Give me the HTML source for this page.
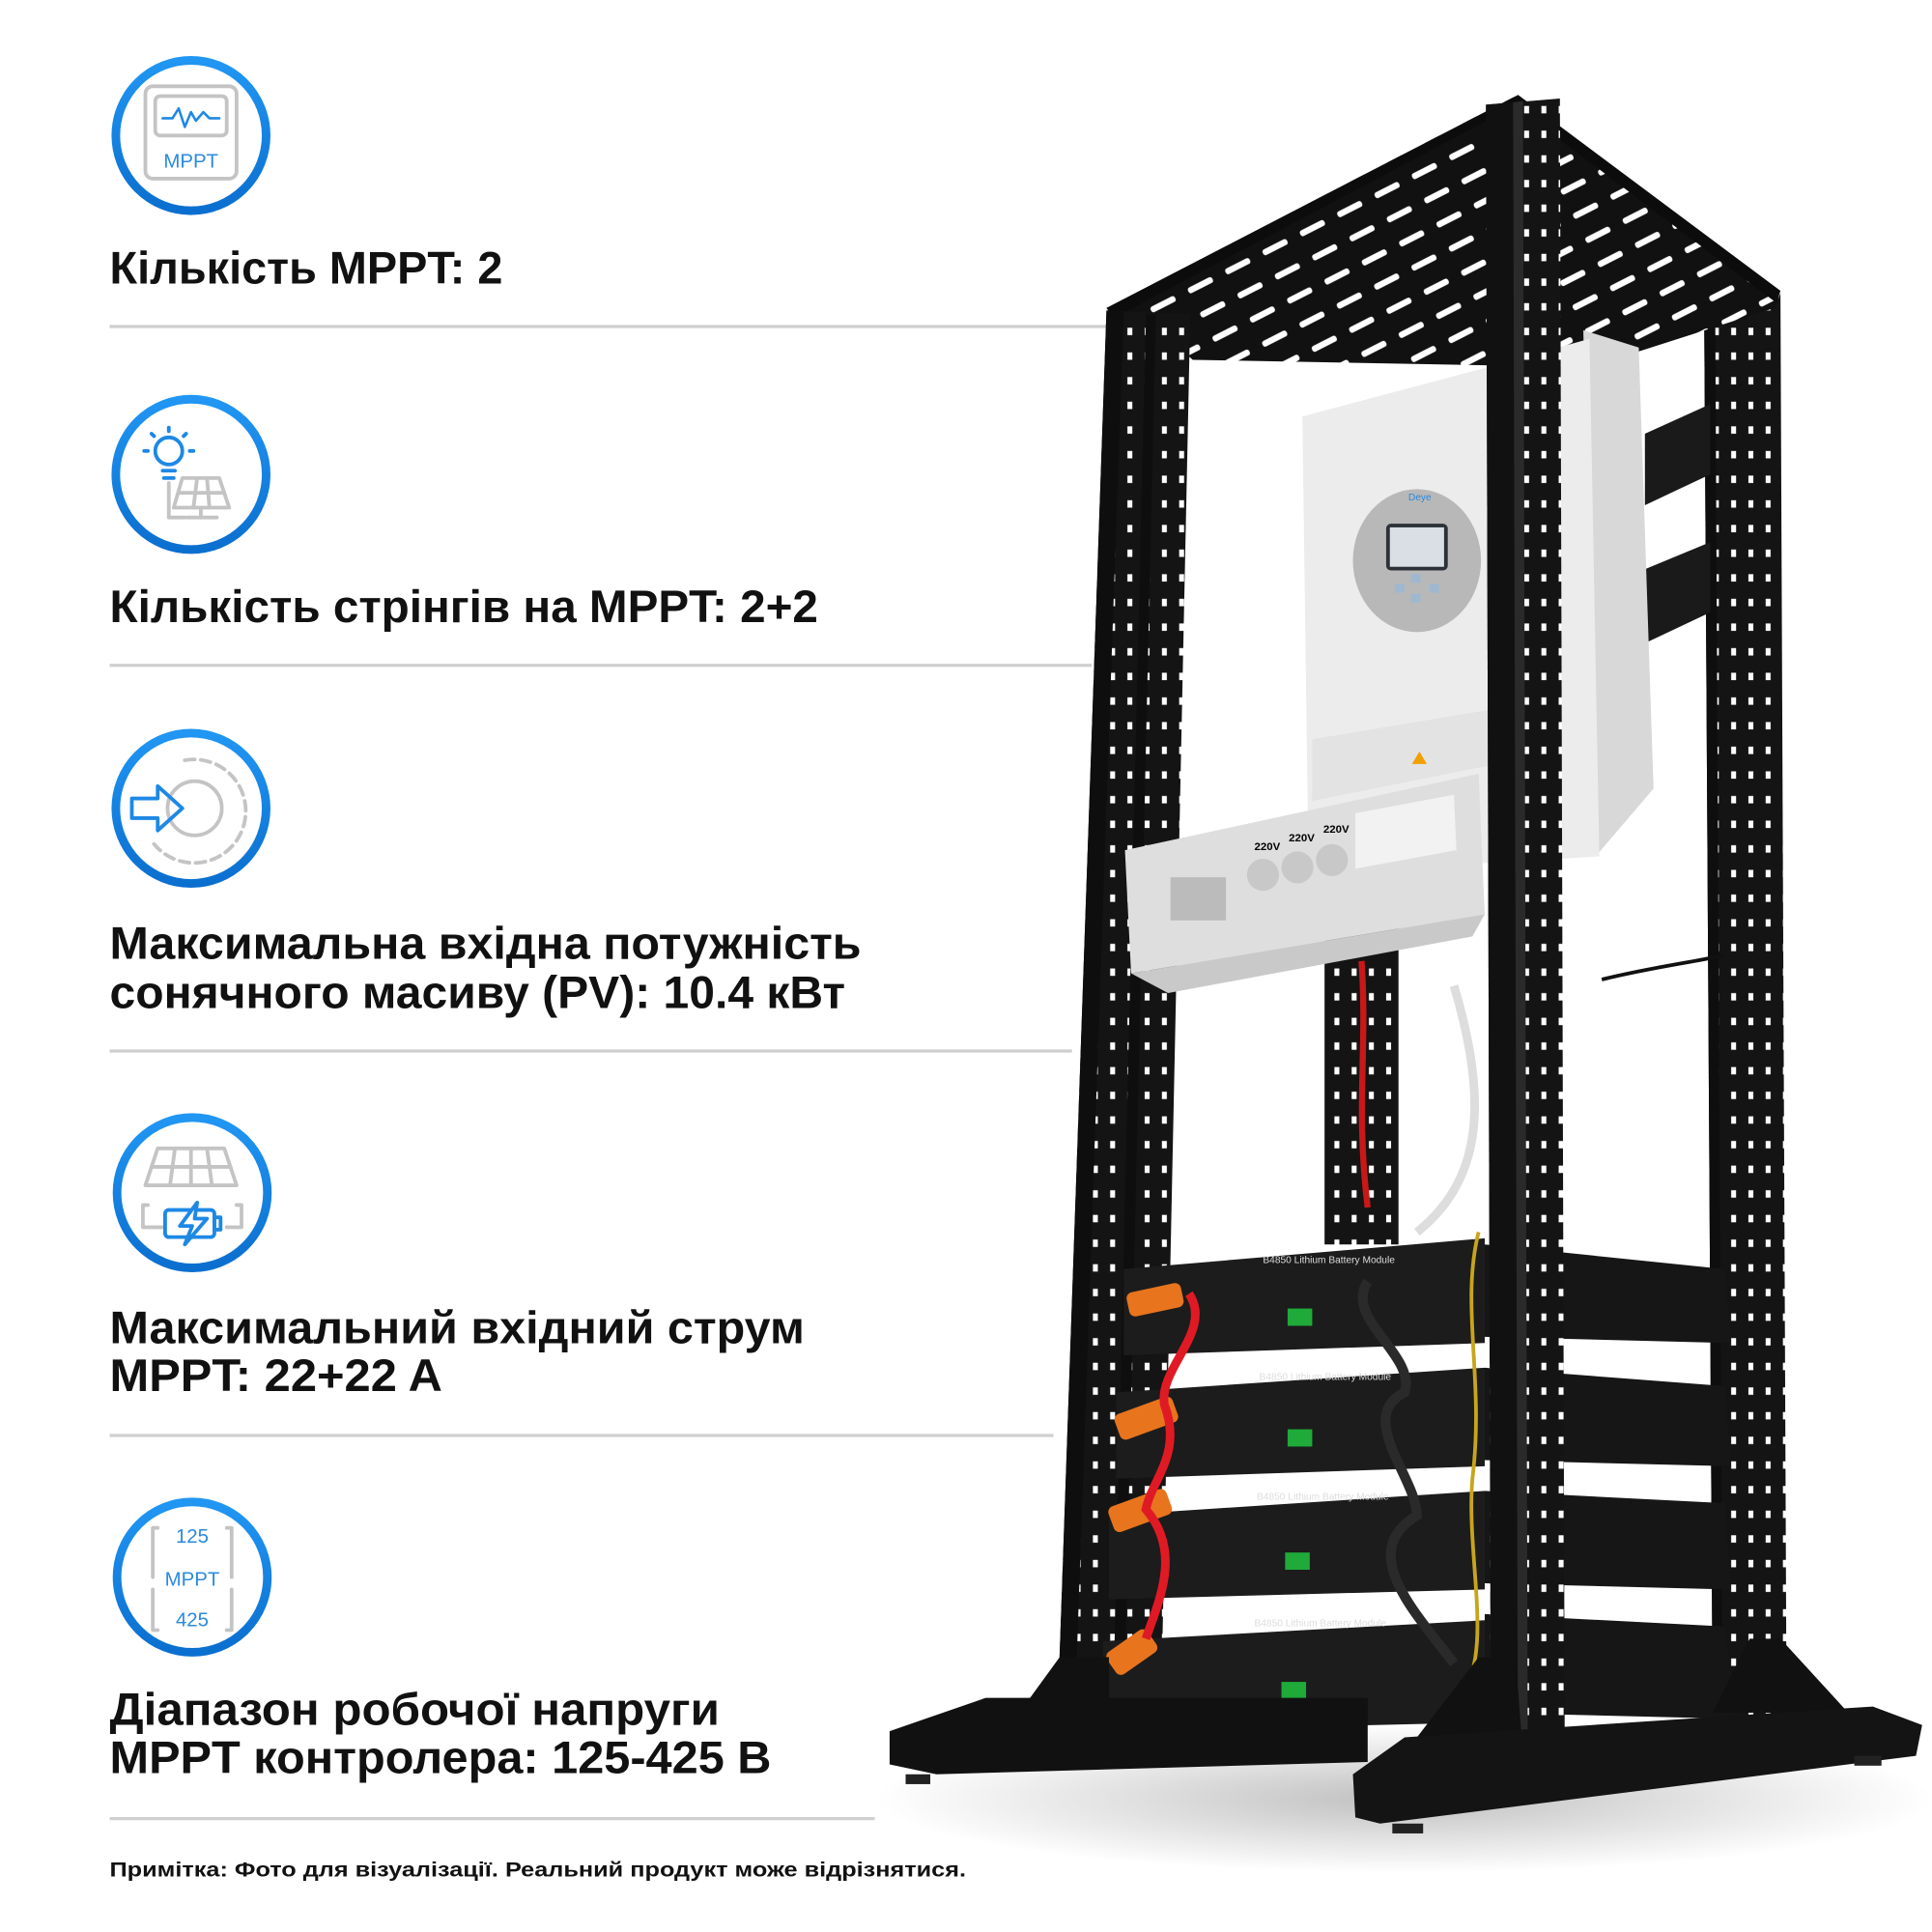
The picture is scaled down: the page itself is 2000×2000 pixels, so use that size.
<!DOCTYPE html>
<html><head><meta charset="utf-8"><style>
html,body{margin:0;padding:0;background:#fff}
svg{display:block}
.t{font-family:"Liberation Sans","DejaVu Sans",sans-serif;font-weight:bold;fill:#111;font-size:37px}
.ln{stroke:#cfcfcf;stroke-width:2.5}
.ring{fill:#fff;stroke:url(#bg);stroke-width:7}
.g{fill:none;stroke:#c4c4c4;stroke-width:3;stroke-linecap:round;stroke-linejoin:round}
.b{fill:none;stroke:#1e88e5;stroke-width:3;stroke-linecap:round;stroke-linejoin:round}
.bt{font-family:"Liberation Sans",sans-serif;fill:#2a8ae0;font-size:16px}
.wt{font-family:"Liberation Sans",sans-serif;fill:#ddd;font-size:8px}
</style></head><body>
<svg width="2000" height="2000" viewBox="0 0 1568 1568" xmlns="http://www.w3.org/2000/svg">
<defs>
<linearGradient id="bg" x1="0" y1="0" x2="0" y2="1"><stop offset="0" stop-color="#2196f3"/><stop offset="1" stop-color="#0b6fcf"/></linearGradient>
<pattern id="slots" width="34" height="22" patternUnits="userSpaceOnUse" patternTransform="rotate(-27)">
<rect width="34" height="22" fill="#111"/><rect x="4" y="8" width="22" height="5" rx="2" fill="#fff"/></pattern>
<pattern id="holes" width="14" height="20" patternUnits="userSpaceOnUse">
<rect width="14" height="20" fill="#141414"/><rect x="5" y="6" width="4" height="6" fill="#fff"/></pattern>
<radialGradient id="sh" cx="0.5" cy="0.5" r="0.5"><stop offset="0" stop-color="#000" stop-opacity="0.25"/><stop offset="1" stop-color="#000" stop-opacity="0"/></radialGradient>
</defs>

<!-- LEFT TEXT -->
<text class="t" x="89" y="230" textLength="319" lengthAdjust="spacingAndGlyphs">Кількість MPPT: 2</text>
<line class="ln" x1="89" y1="265" x2="900" y2="265"/>
<text class="t" x="89" y="505" textLength="575" lengthAdjust="spacingAndGlyphs">Кількість стрінгів на MPPT: 2+2</text>
<line class="ln" x1="89" y1="540" x2="886" y2="540"/>
<text class="t" x="89" y="778" textLength="610" lengthAdjust="spacingAndGlyphs">Максимальна вхідна потужність</text>
<text class="t" x="89" y="818" textLength="597" lengthAdjust="spacingAndGlyphs">сонячного масиву (PV): 10.4 кВт</text>
<line class="ln" x1="89" y1="853" x2="870" y2="853"/>
<text class="t" x="89" y="1090" textLength="564" lengthAdjust="spacingAndGlyphs">Максимальний вхідний струм</text>
<text class="t" x="89" y="1129" textLength="270" lengthAdjust="spacingAndGlyphs">MPPT: 22+22 A</text>
<line class="ln" x1="89" y1="1165" x2="855" y2="1165"/>
<text class="t" x="89" y="1400" textLength="495" lengthAdjust="spacingAndGlyphs">Діапазон робочої напруги</text>
<text class="t" x="89" y="1439" textLength="537" lengthAdjust="spacingAndGlyphs">MPPT контролера: 125-425 В</text>
<line class="ln" x1="89" y1="1476" x2="710" y2="1476"/>
<text class="t" x="89" y="1523" style="font-size:17px" textLength="695" lengthAdjust="spacingAndGlyphs">Примітка: Фото для візуалізації. Реальний продукт може відрізнятися.</text>

<!-- ICONS -->
<circle class="ring" cx="155" cy="110" r="61"/>
<rect class="g" x="118" y="70" width="74" height="75" rx="6"/>
<rect class="g" x="126" y="78" width="58" height="32" rx="4"/>
<polyline class="b" points="132,96 140,96 145,88 150,103 155,91 159,98 165,91 170,96 178,96" style="stroke-width:2"/>
<text class="bt" x="155" y="136" text-anchor="middle">MPPT</text>

<circle class="ring" cx="155" cy="385" r="61"/>
<circle class="b" cx="137" cy="366" r="11"/>
<line class="b" x1="132" y1="382" x2="142" y2="382"/><line class="b" x1="133" y1="388" x2="141" y2="388"/>
<line class="b" x1="137" y1="347" x2="137" y2="350"/><line class="b" x1="120" y1="366" x2="117" y2="366"/><line class="b" x1="154" y1="366" x2="157" y2="366"/>
<line class="b" x1="125" y1="354" x2="123" y2="352"/><line class="b" x1="149" y1="354" x2="151" y2="352"/>
<polygon class="g" points="148,388 178,388 186,412 141,412"/>
<line class="g" x1="145" y1="400" x2="182" y2="400"/><line class="g" x1="160" y1="388" x2="157" y2="412"/><line class="g" x1="168" y1="388" x2="170" y2="412"/>
<line class="g" x1="163" y1="412" x2="163" y2="420"/><line class="g" x1="152" y1="420" x2="176" y2="420"/>
<polyline class="g" points="137,392 137,420 150,420"/>

<circle class="ring" cx="155" cy="656" r="61"/>
<path class="g" d="M 150 617 A 42 42 0 1 1 125 685" stroke-dasharray="8 5"/>
<circle class="g" cx="158" cy="656" r="22"/>
<polygon class="b" points="107,648 128,648 128,638 148,656 128,674 128,664 107,664"/>

<circle class="ring" cx="156" cy="968" r="61"/>
<polygon class="g" points="128,932 182,932 192,962 118,962"/>
<line class="g" x1="123" y1="947" x2="187" y2="947"/><line class="g" x1="142" y1="932" x2="138" y2="962"/><line class="g" x1="155" y1="932" x2="155" y2="962"/><line class="g" x1="168" y1="932" x2="172" y2="962"/>
<path class="g" d="M120 978 h-4 v18 h16 M192 978 h4 v18 h-12"/>
<rect class="b" x="134" y="982" width="40" height="22" rx="3"/>
<rect class="b" x="174" y="988" width="5" height="10"/>
<polygon class="b" points="160,976 146,995 156,995 150,1010 168,989 158,989" style="fill:#fff"/>

<circle class="ring" cx="156" cy="1280" r="61"/>
<path class="g" d="M128 1240 h-4 v40 M124 1290 v33 h4 M184 1240 h4 v40 M188 1290 v33 h-4"/>
<text class="bt" x="156" y="1252" text-anchor="middle">125</text>
<text class="bt" x="156" y="1287" text-anchor="middle">MPPT</text>
<text class="bt" x="156" y="1320" text-anchor="middle">425</text>

<!-- RACK -->
<ellipse cx="1140" cy="1460" rx="430" ry="60" fill="url(#sh)"/>
<polygon points="1383,238 1445,238 1450,1400 1390,1400" fill="url(#holes)"/>
<polygon points="1383,238 1392,238 1398,1400 1390,1400" fill="#0e0e0e"/>
<polygon points="1075,700 1135,700 1135,1010 1075,1010" fill="url(#holes)"/>
<polygon points="1335,352 1388,328 1388,385 1335,410" fill="#1a1a1a"/>
<polygon points="1335,462 1388,440 1388,497 1335,522" fill="#1a1a1a"/>
<polygon points="898,250 1232,77 1445,238 1440,250 1290,298 968,292 935,262" fill="url(#slots)"/>
<polygon points="898,250 1232,77 1237,82 904,258" fill="#0c0c0c"/>
<polygon points="1232,77 1445,236 1442,246 1235,90" fill="#0c0c0c"/>
<polygon points="898,252 966,255 942,1400 858,1400" fill="url(#holes)"/>
<polygon points="898,252 912,252 872,1400 858,1400" fill="#0e0e0e"/>
<polygon points="930,255 938,255 912,1400 903,1400" fill="#0e0e0e"/>
<!-- inverter -->
<polygon points="1285,268 1330,282 1342,640 1295,695" fill="#d8d8d8"/>
<polygon points="1057,338 1215,296 1290,275 1298,695 1215,700 1062,705" fill="#ececec"/>
<ellipse cx="1150" cy="455" rx="52" ry="58" fill="#b8b8b8"/>
<rect x="1125" y="425" width="50" height="38" rx="4" fill="#2c3138"/>
<rect x="1128" y="428" width="44" height="32" fill="#d9dfe4"/>
<text x="1143" y="406" font-family="Liberation Sans,sans-serif" font-size="8" fill="#2a8ae0">Deye</text>
<rect x="1145" y="466" width="8" height="7" fill="#9fb8d0"/><rect x="1132" y="474" width="8" height="7" fill="#9fb8d0"/><rect x="1160" y="474" width="8" height="7" fill="#9fb8d0"/><rect x="1145" y="482" width="8" height="7" fill="#9fb8d0"/>
<polygon points="1065,600 1215,575 1215,620 1065,650" fill="#e3e3e3"/>
<polygon points="1152,610 1158,620 1146,620" fill="#f0a000"/>
<!-- distribution panel -->
<polygon points="913,690 1200,628 1205,742 918,790" fill="#dedede"/>
<polygon points="918,790 1205,742 1195,760 948,806" fill="#c9c9c9"/>
<polygon points="1100,660 1180,645 1182,690 1100,705" fill="#f2f2f2"/>
<circle cx="1025" cy="710" r="13" fill="#c8c8c8"/><circle cx="1053" cy="704" r="13" fill="#c8c8c8"/><circle cx="1081" cy="698" r="13" fill="#c8c8c8"/>
<text x="1018" y="690" font-family="Liberation Sans,sans-serif" font-size="9" font-weight="bold">220V</text>
<text x="1046" y="683" font-family="Liberation Sans,sans-serif" font-size="9" font-weight="bold">220V</text>
<text x="1074" y="676" font-family="Liberation Sans,sans-serif" font-size="9" font-weight="bold">220V</text>
<rect x="950" y="712" width="45" height="35" fill="#bbb"/>
<path d="M1105 780 C1110 850 1100 900 1110 980" stroke="#c81818" stroke-width="5" fill="none"/>
<path d="M1180 800 C1210 900 1200 960 1150 1000" stroke="#ddd" stroke-width="7" fill="none"/>
<path d="M1300 795 C1340 785 1380 780 1400 775" stroke="#111" stroke-width="3" fill="none"/>
<!-- batteries -->
<g>
<polygon points="1205,1010 1400,1030 1405,1090 1205,1085" fill="#161616"/>
<polygon points="1205,1110 1400,1125 1405,1190 1205,1185" fill="#161616"/>
<polygon points="1205,1210 1400,1220 1405,1290 1205,1285" fill="#161616"/>
<polygon points="1205,1310 1400,1320 1410,1395 1205,1390" fill="#161616"/>
<polygon points="912,1030 1205,1005 1205,1090 912,1100" fill="#1c1c1c"/>
<polygon points="906,1130 1205,1110 1205,1190 906,1200" fill="#1c1c1c"/>
<polygon points="900,1230 1205,1210 1205,1290 900,1298" fill="#1c1c1c"/>
<polygon points="895,1332 1205,1315 1205,1398 895,1405" fill="#1c1c1c"/>
<text class="wt" x="1025" y="1025">B4850 Lithium Battery Module</text>
<text class="wt" x="1022" y="1120">B4850 Lithium Battery Module</text>
<text class="wt" x="1020" y="1217">B4850 Lithium Battery Module</text>
<text class="wt" x="1018" y="1320">B4850 Lithium Battery Module</text>
<rect x="1045" y="1062" width="20" height="14" fill="#1faa3a"/><rect x="1045" y="1160" width="20" height="14" fill="#1faa3a"/><rect x="1043" y="1260" width="20" height="14" fill="#1faa3a"/><rect x="1040" y="1365" width="20" height="14" fill="#1faa3a"/>
<rect x="915" y="1045" width="45" height="20" rx="5" fill="#e8741e" transform="rotate(-12 937 1055)"/>
<rect x="905" y="1140" width="50" height="22" rx="5" fill="#e8741e" transform="rotate(-20 930 1150)"/>
<rect x="900" y="1215" width="50" height="22" rx="5" fill="#e8741e" transform="rotate(-20 925 1225)"/>
<rect x="898" y="1330" width="40" height="22" rx="5" fill="#e8741e" transform="rotate(-35 918 1340)"/>
<path d="M965 1050 C985 1080 940 1110 945 1140 C960 1180 935 1200 930 1225 C960 1260 940 1300 930 1330" stroke="#e01a24" stroke-width="7" fill="none"/>
<path d="M1110 1040 C1090 1070 1150 1100 1140 1130 C1100 1150 1150 1200 1150 1230 C1100 1260 1150 1310 1180 1350" stroke="#2a2a2a" stroke-width="8" fill="none"/>
<path d="M1200 1000 C1185 1060 1205 1120 1195 1200 C1190 1260 1210 1330 1190 1370" stroke="#c7a51c" stroke-width="3" fill="none"/>
</g>
<polygon points="1206,85 1266,80 1270,1445 1210,1445" fill="url(#holes)"/>
<polygon points="1206,85 1228,83 1232,1445 1210,1445" fill="#111"/>
<polygon points="1228,83 1236,82 1240,1445 1232,1445" fill="#2a2a2a"/>
<!-- base -->
<polygon points="722,1405 800,1378 1110,1378 1110,1430 760,1440 722,1432" fill="#111"/>
<polygon points="820,1400 860,1345 900,1345 900,1400" fill="#111"/>
<polygon points="1150,1410 1200,1345 1230,1345 1235,1410" fill="#111"/>
<polygon points="1390,1390 1420,1330 1445,1330 1500,1390" fill="#111"/>
<polygon points="1098,1440 1140,1410 1520,1385 1560,1400 1555,1425 1120,1480 1100,1475" fill="#141414"/>
<rect x="1130" y="1480" width="25" height="8" fill="#222"/><rect x="1505" y="1425" width="22" height="8" fill="#222"/><rect x="735" y="1440" width="20" height="8" fill="#222"/>
</svg>
</body></html>
